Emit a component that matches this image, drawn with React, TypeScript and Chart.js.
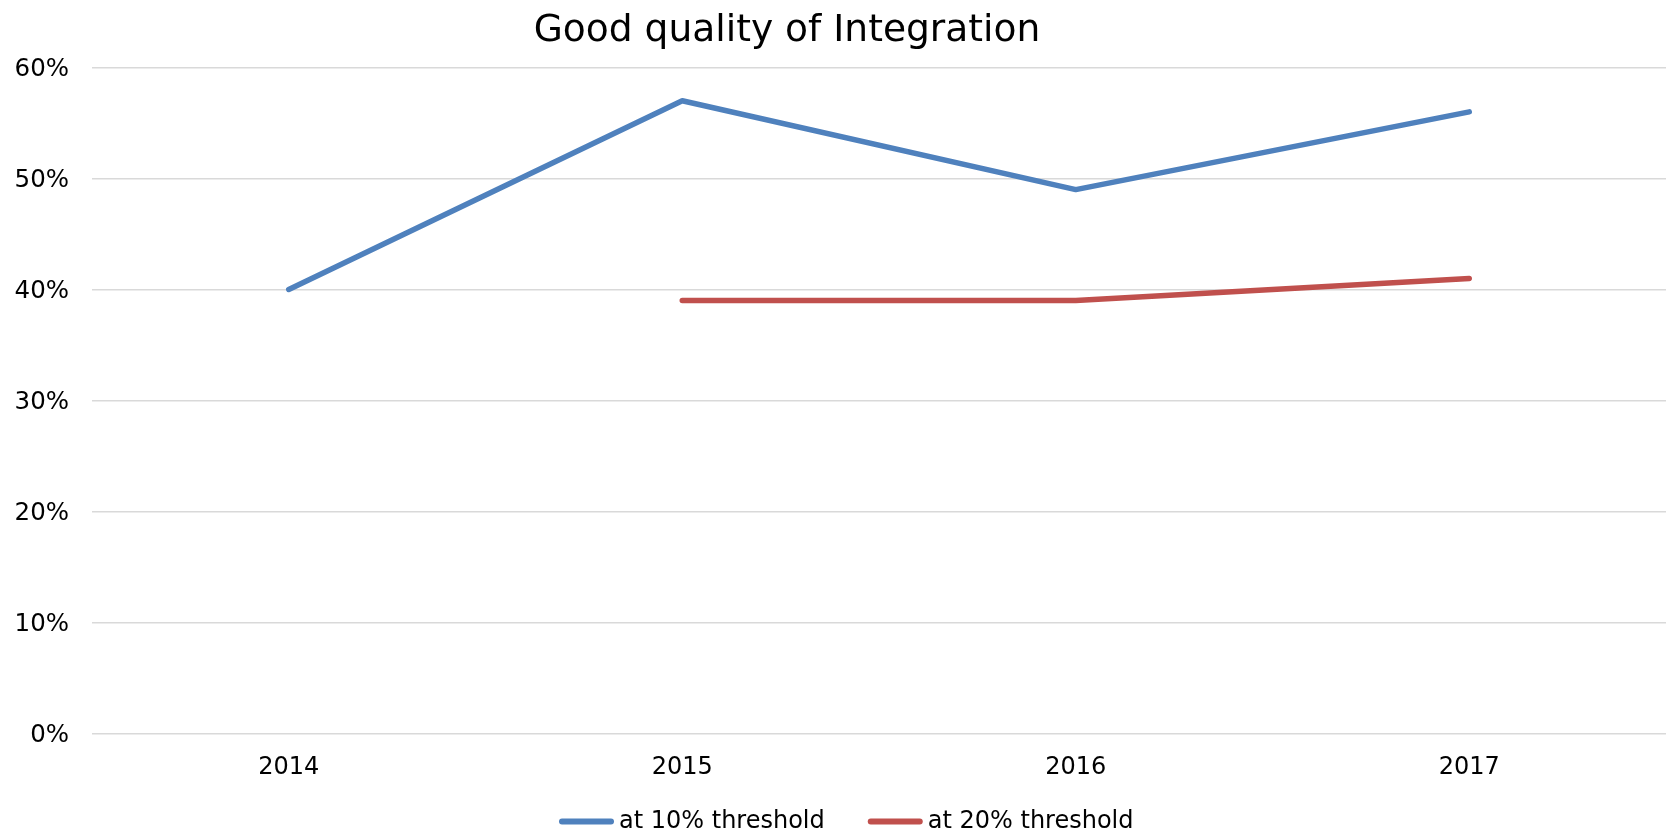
import React, { useEffect, useRef } from "react";
import { Chart, registerables } from "chart.js";

Chart.register(...registerables);

const categories = ["2014", "2015", "2016", "2017"];
const seriesNames = ["at 10% threshold", "at 20% threshold"];
const at10 = [0.4, 0.57, 0.49, 0.56];
const at20: (number | null)[] = [null, 0.39, 0.39, 0.41];
const colors = ["#4F81BD", "#C0504D"];
const titleText = "Good quality of Integration";

const FONT = "'DejaVu Sans', Verdana, sans-serif";

const titlePlugin = {
  id: "customTitle",
  afterDraw(chart: any) {
    const ctx = chart.ctx;
    ctx.save();
    ctx.font = `37.6px ${FONT}`;
    ctx.fillStyle = "#000";
    ctx.textAlign = "center";
    ctx.textBaseline = "alphabetic";
    ctx.fillText(titleText, 787, 40.5);
    ctx.restore();
  },
};

const legendPlugin = {
  id: "customLegend",
  afterDraw(chart: any) {
    const ctx = chart.ctx;
    ctx.save();
    ctx.font = `24px ${FONT}`;
    ctx.textBaseline = "middle";
    ctx.textAlign = "left";
    let x = 559;
    const y = 821.5;
    chart.data.datasets.forEach((ds: any) => {
      ctx.strokeStyle = ds.borderColor;
      ctx.lineWidth = 6;
      ctx.lineCap = "round";
      ctx.beginPath();
      ctx.moveTo(x + 3, y);
      ctx.lineTo(x + 52, y);
      ctx.stroke();
      ctx.fillStyle = "#000";
      ctx.fillText(ds.label, x + 60, y);
      x += 60 + ctx.measureText(ds.label).width + 43;
    });
    // cut-off page number fragment at bottom right
    ctx.fillText("4", 1650, 846);
    ctx.restore();
  },
};

export default function App() {
  const ref = useRef<HTMLCanvasElement | null>(null);

  useEffect(() => {
    if (!ref.current) return;
    const chart = new Chart(ref.current, {
      type: "line",
      data: {
        labels: categories,
        datasets: [
          {
            label: seriesNames[0],
            data: at10,
            borderColor: colors[0],
            backgroundColor: colors[0],
            borderWidth: 5.5,
            pointRadius: 0,
            tension: 0,
            borderCapStyle: "round",
            borderJoinStyle: "round",
          },
          {
            label: seriesNames[1],
            data: at20,
            borderColor: colors[1],
            backgroundColor: colors[1],
            borderWidth: 5.5,
            pointRadius: 0,
            tension: 0,
            borderCapStyle: "round",
            borderJoinStyle: "round",
          },
        ],
      },
      options: {
        responsive: false,
        animation: false,
        layout: { padding: { top: 67.5, right: 3, left: 0, bottom: 0 } },
        plugins: {
          legend: { display: false },
          title: { display: false },
          tooltip: { enabled: false },
        },
        scales: {
          x: {
            offset: true,
            grid: { display: false, drawTicks: false },
            border: { display: false },
            ticks: {
              color: "#000",
              font: { family: FONT, size: 24 },
              padding: 20,
              maxRotation: 0,
            },
            afterFit(scale: any) {
              scale.height = 98.5;
            },
          },
          y: {
            min: 0,
            max: 0.6,
            grid: { color: "#d9d9d9", lineWidth: 1.5, drawTicks: false },
            border: { display: false },
            ticks: {
              stepSize: 0.1,
              color: "#000",
              font: { family: FONT, size: 24.5 },
              padding: 23,
              labelOffset: 2,
              callback: (v: any) => `${Math.round(Number(v) * 100)}%`,
            },
            afterFit(scale: any) {
              scale.width = 92;
            },
          },
        },
      },
      plugins: [titlePlugin, legendPlugin],
    });
    return () => chart.destroy();
  }, []);

  return (
    <canvas
      ref={ref}
      width={1669}
      height={832}
      style={{ position: "fixed", left: 0, top: 0, display: "block", background: "#fff" }}
    />
  );
}
